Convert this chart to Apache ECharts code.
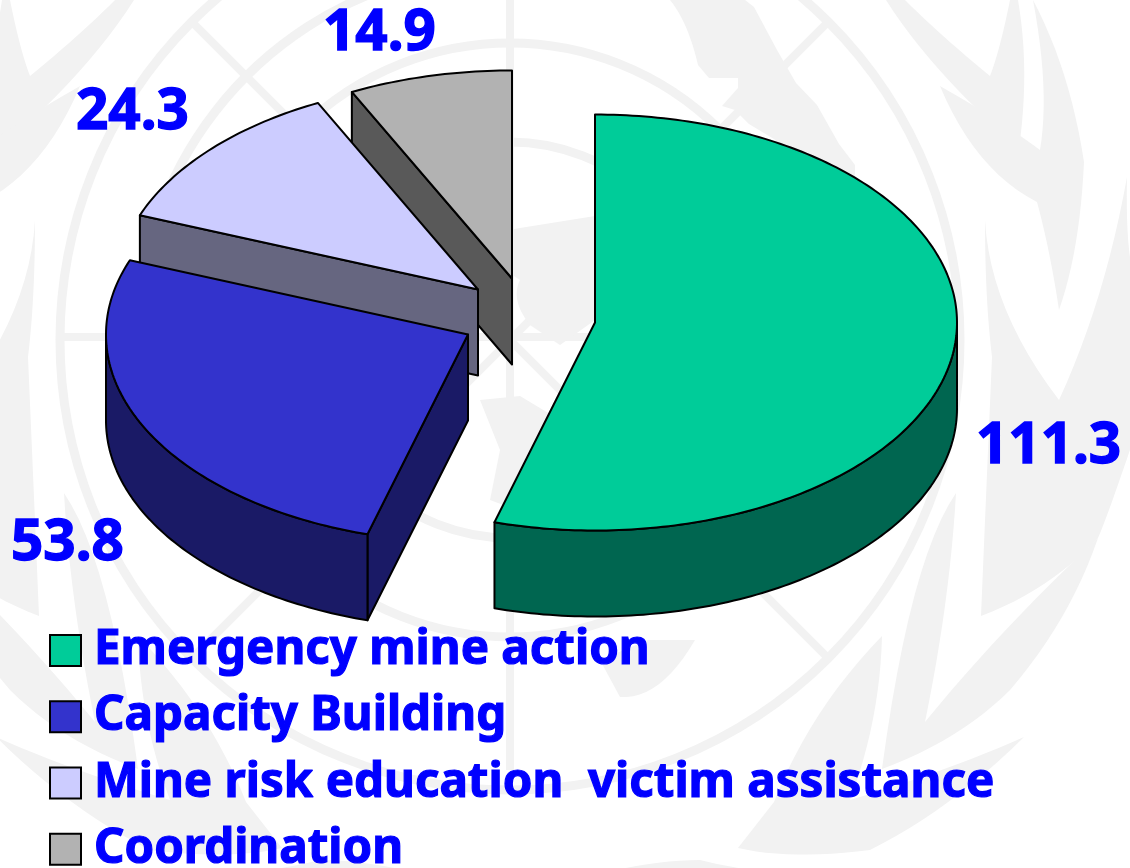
<!DOCTYPE html>
<html>
<head>
<meta charset="utf-8">
<style>html,body{margin:0;padding:0;background:#fff}#c{width:1130px;height:868px}</style>
<script src="https://cdn.jsdelivr.net/npm/echarts@6/dist/echarts.min.js"></script>
</head>
<body>
<div id="c"></div>
<script>
// DATA
const categories = ['Emergency mine action', 'Capacity Building', 'Mine risk education  victim assistance', 'Coordination'];
const values = [111.3, 53.8, 24.3, 14.9];
const valueLabels = ['111.3', '53.8', '24.3', '14.9'];
const topColors = ['#00CC99', '#3333CC', '#CCCCFF', '#B2B2B2'];
const wallColors = ['#006650', '#1A1A66', '#666680', '#595959'];

// LAYOUT
const FONT = '"Noto Sans", sans-serif';
const RX = 362, RY = 208, DEPTH = 86;
const apexes = [[595, 322.5], [468, 334.5], [478, 289.5], [512, 278.5]];
const labelPos = [[976, 447], [11, 544], [76, 113], [323, 34]];

const total = values.reduce((a, b) => a + b, 0);
const startAngles = [];
values.reduce((acc, v, i) => { startAngles[i] = acc; return acc + v / total * 360; }, 0);

function rim(cx, cy, a0, a1) {
  const pts = [], n = Math.max(2, Math.ceil(Math.abs(a1 - a0)));
  for (let k = 0; k <= n; k++) {
    const a = (a0 + (a1 - a0) * k / n) * Math.PI / 180;
    pts.push([cx + RX * Math.sin(a), cy - RY * Math.cos(a)]);
  }
  return pts;
}
const poly = (points, fill, z2) => ({
  type: 'polygon', shape: { points }, z2,
  style: { fill, stroke: '#000', lineWidth: 2, lineJoin: 'round' }
});

function renderSlice(i) {
  return function (params, api) {
    const sweep = api.value(0) / total * 360;
    const a0 = startAngles[i], a1 = a0 + sweep;
    const [cx, cy] = apexes[i];
    const kids = [];
    const radial = a => {
      const p = rim(cx, cy, a, a)[0];
      return [[cx, cy], p, [p[0], p[1] + DEPTH], [cx, cy + DEPTH]];
    };
    const sinOf = a => Math.sin(a * Math.PI / 180);
    if (sinOf(a0) < -1e-6) kids.push(poly(radial(a0), wallColors[i], 1));
    if (sinOf(a1) > 1e-6) kids.push(poly(radial(a1), wallColors[i], 1));
    const w0 = Math.max(a0, 90), w1 = Math.min(a1, 270);
    if (w1 > w0) {
      const upper = rim(cx, cy, w0, w1);
      const lower = upper.map(p => [p[0], p[1] + DEPTH]).reverse();
      kids.push(poly(upper.concat(lower), wallColors[i], 2));
    }
    kids.push(poly([[cx, cy]].concat(rim(cx, cy, a0, a1)), topColors[i], 3));
    kids.push({
      type: 'text', z2: 5,
      style: {
        x: labelPos[i][0], y: labelPos[i][1], text: valueLabels[i], fill: '#0000FF',
        stroke: '#0000FF', lineWidth: 1.4,
        font: 'bold 56.5px ' + FONT, textAlign: 'left', textVerticalAlign: 'middle'
      }
    });
    return { type: 'group', children: kids };
  };
}

// Faint emblem behind the chart
const EMBLEM = '#F2F2F2', CX = 510, CY = 340;
function outline(d) { // "M/L x y", "Q cx cy x y" -> sampled polygon
  const t = d.trim().split(/\s+/), pts = [];
  let i = 0, cur = [0, 0];
  while (i < t.length) {
    const c = t[i++];
    if (c === 'M' || c === 'L') { cur = [+t[i], +t[i + 1]]; i += 2; pts.push(cur); }
    else if (c === 'Q') {
      const q = [+t[i], +t[i + 1]], e = [+t[i + 2], +t[i + 3]]; i += 4;
      for (let k = 1; k <= 12; k++) {
        const u = k / 12, v = 1 - u;
        pts.push([v * v * cur[0] + 2 * u * v * q[0] + u * u * e[0], v * v * cur[1] + 2 * u * v * q[1] + u * u * e[1]]);
      }
      cur = e;
    }
  }
  return pts;
}
const ring = r => ({ type: 'circle', shape: { cx: CX, cy: CY, r }, style: { fill: 'none', stroke: EMBLEM, lineWidth: 9 } });
const spoke = (x1, y1, x2, y2) => ({ type: 'line', shape: { x1, y1, x2, y2 }, style: { stroke: EMBLEM, lineWidth: 8 } });
const topLeftArc = {
  type: 'arc',
  shape: { cx: CX, cy: CY, r: 373, startAngle: Math.PI, endAngle: Math.PI * 1.42 },
  style: { fill: 'none', stroke: EMBLEM, lineWidth: 9 }
};
const leafPaths = [
  'M 886 0 Q 930 70 1019 148 Q 1030 70 1018 0 L 1010 0 Q 1000 50 990 76 Q 940 35 905 0',
  'M 940 86 Q 975 170 1037 202 Q 1050 250 1059 310 Q 1080 250 1084 162 Q 1070 70 1033 0 Q 1050 90 1040 150 Q 1000 120 940 86',
  'M 985 220 Q 990 310 1059 400 Q 1105 300 1127 177 Q 1125 270 1140 290 L 1140 420 Q 1110 510 1098 538 Q 1050 590 981 616 Q 985 520 992 357 Q 985 300 985 220',
  'M 956 493 Q 910 560 882 769 Q 960 740 1010 690 Q 1070 620 1098 538 Q 1000 630 925 722 Q 950 600 956 493',
  'M 882 636 Q 810 710 774 802 L 738 848 Q 790 860 870 850 Q 950 810 1024 737 Q 950 770 850 800 Q 880 720 882 636',
  'M 565 884 Q 640 860 700 860 Q 800 885 938 875 L 950 868 L 565 868'
];
const leaves = [];
leafPaths.forEach(d => {
  const points = outline(d);
  leaves.push({ type: 'polygon', shape: { points }, style: { fill: EMBLEM } });
  leaves.push({ type: 'polygon', shape: { points }, originX: CX, originY: 0, scaleX: -1, style: { fill: EMBLEM } });
});
const lands = [
  'M 670 0 Q 688 22 698 65 L 709 78 L 738 78 L 738 88 L 722 106 L 735 110 L 749 124 L 774 139 L 786 150 L 855 180 L 855 165 L 839 144 L 817 105 L 796 83 L 777 50 L 754 7 L 745 0',
  'M 480 235 L 520 228 L 595 216 L 595 320 L 560 345 L 530 325 Q 510 300 520 280 L 490 260',
  'M 480 400 L 520 396 L 560 420 L 590 395 L 570 470 L 530 515 L 490 500 L 500 450',
  'M 648 640 L 695 640 Q 660 700 620 697 L 600 660'
];
const emblem = [
  ring(450), ring(297), ring(198), topLeftArc,
  spoke(510, -120, 510, 770), spoke(60, 337, 960, 337),
  spoke(192, 22, 828, 658), spoke(828, 22, 192, 658)
].concat(leaves, lands.map(d => ({ type: 'polygon', shape: { points: outline(d) }, style: { fill: EMBLEM } })));

const order = values.map((_, i) => i).reverse();
const chart = echarts.init(document.getElementById('c'));
chart.setOption({
  animation: false,
  backgroundColor: '#fff',
  graphic: { elements: emblem },
  legend: {
    orient: 'vertical', left: 49, top: 626, height: 400, padding: 0, itemWidth: 31, itemHeight: 31, itemGap: 17,
    icon: 'rect', selectedMode: false,
    textStyle: {
      color: '#0000FF', fontFamily: FONT, fontWeight: 'bold', fontSize: 47.5, padding: [6, 0, 0, 8],
      textBorderColor: '#0000FF', textBorderWidth: 1.2
    },
    data: categories.map((name, i) => ({
      name, itemStyle: { color: topColors[i], borderColor: '#000', borderWidth: 2 }
    }))
  },
  series: order.map(i => ({
    type: 'custom', name: categories[i], coordinateSystem: 'none', silent: true,
    itemStyle: { color: topColors[i] },
    renderItem: renderSlice(i),
    data: [[values[i]]]
  }))
});
</script>
</body>
</html>
